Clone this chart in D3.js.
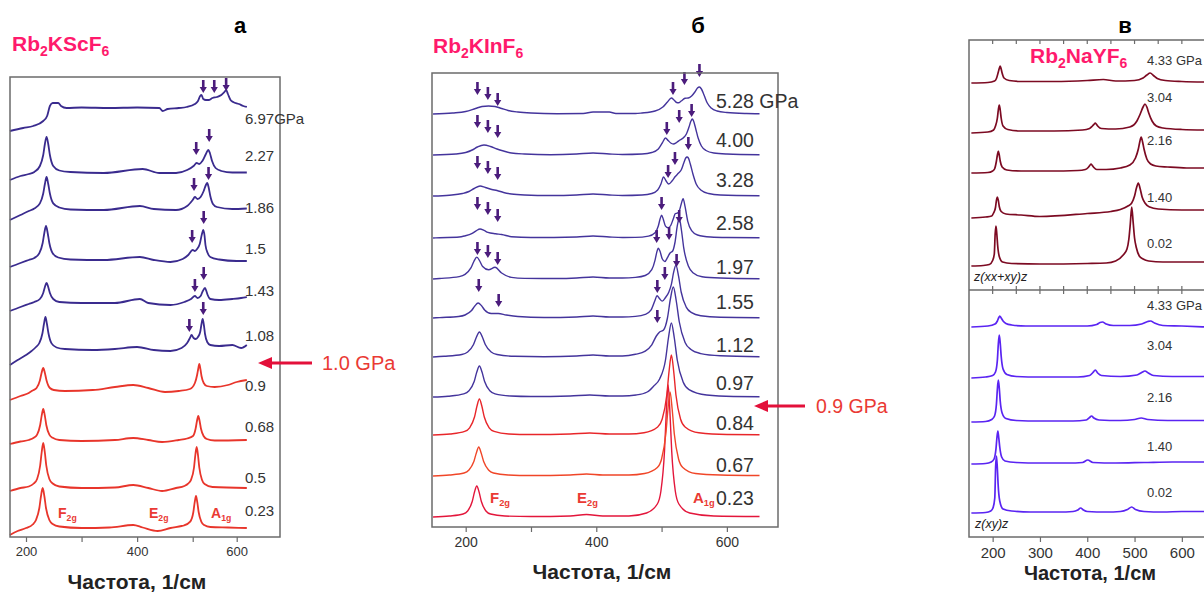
<!DOCTYPE html>
<html><head><meta charset="utf-8">
<script src="https://cdn.jsdelivr.net/npm/d3@7"></script>
<style>body{margin:0;background:#fff}svg{display:block}</style>
</head><body>
<svg id="chart" width="1204" height="592"></svg>
<script>
// ================= DATA =================
// Panel а : Rb2KScF6  (wavenumber 1/cm, intensity a.u. relative to each spectrum's baseline)
const pressuresA = ["0.23","0.5","0.68","0.9","1.08","1.43","1.5","1.86","2.27","6.97GPa"];
const offsetsA = [9,49,96,144,187,234,277,327,364,429];
const spectraA = [
 [[171,-7],[185,-3],[200,0],[212,3.5],[218,8],[224,20],[227,32],[230,40],[233,32],[236,20],[242,8],[248,4],[260,1.5],[300,0],[350,0.5],[393,3],[410,0.5],[437,-3],[460,0],[480,2],[484,2.5],[495.5,6.4],[501.5,16],[504.5,25.6],[507.5,32],[510.5,25.6],[513.5,16],[519.5,6.4],[526,3],[540,1],[580,0.5],[623,0]],
 [[171,-3],[190,0],[205,1.5],[214,4.5],[220,9],[225.5,22.5],[228.3,36],[231,45],[233.8,36],[236.5,22.5],[242,9],[248,4.5],[260,1.5],[300,0],[360,0.5],[393,3],[420,0],[445,-3],[470,0],[485,2],[491,4],[497,8.2],[503,20.5],[506,33],[509,41],[512,33],[515,20.5],[521,8.2],[527,4],[545,1],[623,0]],
 [[171,-3],[190,-0.5],[205,1],[214,3.2],[220,6.4],[225.5,16],[228.3,25.6],[231,32],[233.8,25.6],[236.5,16],[242,6.4],[248,3.2],[260,1],[300,0],[360,1],[393,3],[420,1],[445,-1],[475,1],[490,2.5],[500.7,5],[506.7,12.5],[509.7,20],[512.7,25],[515.7,20],[518.7,12.5],[524.7,5],[532,2],[550,0.5],[623,1]],
 [[171,-7],[190,-3],[205,0],[212,2.5],[219,5],[225,12.5],[228,20],[231,25],[234,20],[237,12.5],[243,5],[250,3],[270,2],[320,3],[360,6],[393,8],[420,5],[450,1],[475,2],[495,4],[505,10],[510,18],[512.5,24],[515,29],[517.5,24],[520,17],[525,10],[532,7],[550,6],[580,8],[600,11],[623,13]],
 [[171,-15],[185,-10],[200,-5],[210,-1],[218,3],[224,7],[229.5,16.5],[232.3,26],[235,33],[237.7,26],[240.5,16.5],[246,6.6],[255,2.5],[270,1],[320,0],[360,1],[400,3],[430,0],[460,-1],[480,2],[490,7],[495,12],[498,15],[502,12],[507,11],[512,13],[517,18],[520,26],[522.7,31],[525.4,25],[528,16],[533,8],[540,5],[560,4],[590,5],[610,2],[623,5]],
 [[171,-8],[190,-4],[205,-1],[215,1],[225,4],[231,10],[234,16],[237,20],[240,16],[243,10],[249,4],[260,1],[300,0],[360,0],[405,4],[420,0],[460,-2],[485,1],[497,4],[505,7],[511,5],[518,7],[523,12],[528,15],[531,12],[534,8],[540,4],[560,3],[590,4],[610,5],[623,6]],
 [[171,-7],[190,-3],[205,0],[215,2],[224,6.8],[230,17],[233,27],[236,34],[239,27],[242,17],[248,6.8],[258,2.5],[280,0.5],[340,0],[405,3],[430,0],[460,-2],[482,1],[492,5],[500,10],[505,9],[510,11],[516,16],[521,26],[524,30],[527,24],[529,15],[534,7],[540,3],[560,0.5],[600,-1],[623,-1]],
 [[171,-10],[190,-5],[205,-1],[215,1.5],[225,6.6],[231,16.5],[234,26],[237,33],[240,26],[243,16.5],[249,6.6],[260,2.5],[280,0.5],[340,0],[405,4],[430,1],[470,0],[490,4],[500,10],[505,13],[511,11],[518,13],[525,19],[530,25],[533,27],[536,23],[540,14],[546,6],[555,3],[590,1],[623,1.5]],
 [[171,-7],[190,-3],[205,-1],[215,1],[225,7],[231,18],[234,29],[237,36],[240,29],[243,18],[249,7],[260,2.5],[280,1],[340,0],[410,4],[440,0],[470,0],[490,3],[502,7],[509,10],[515,9],[522,12],[530,19],[535.5,23],[539,20],[544,12],[552,5],[565,2],[590,0.5],[623,0.5]],
 [[171,-23],[195,-20],[213,-18],[231,-13],[238,-8],[243,2],[248,5],[258,5],[263,2],[273,0],[300,0.5],[350,0],[400,0.5],[440,0],[446,-3],[455,-1],[475,0],[489,1],[505,4],[512,7],[517,12],[520,13],[524,9],[530,8],[536,8],[545,10],[555,11],[565,13],[572,16],[576,18],[580,14],[586,8],[592,6],[605,4],[615,2],[623,1]]
];
const redCountA = 4;
// arrows: [wavenumber, intensity of arrow tip]
const arrowsA = [[524,444],[549,444],[576,446],[508,382],[537.5,395],[503,346],[536,357],[499,294],[525,313],[505,245],[525,257],[494,205],[524,222]];
const ticksA = [200,300,400,500,600];

// Panel б : Rb2KInF6
const pressuresB = ["0.23","0.67","0.84","0.97","1.12","1.55","1.97","2.58","3.28","4.00","5.28 GPa"];
const offsetsB = [10,51,92,130,170,209,248,289,331,372,413];
const spectraB = [
 [[150,0],[175,1],[196,3],[203,6],[210,15.5],[213.5,25],[217,31],[220.5,25],[224,15.5],[231,6],[238,3],[260,1],[300,0.5],[360,1],[385,2.5],[410,1],[450,1],[477,4],[493.5,13],[499,26],[504.5,66],[507.3,106],[510,132],[512.7,106],[515.5,66],[521,26],[526.5,13],[543,4],[580,1],[650,0.5]],
 [[150,0],[175,1],[197.5,3],[205,6],[212.5,14.5],[216.3,23],[220,29],[223.7,23],[227.5,14.5],[235,6],[242.5,3],[265,1],[300,0.5],[360,1],[385,2],[410,1],[450,1],[474,2.5],[493.5,8.5],[500,17],[506.5,42],[509.8,67],[513,84],[516.2,67],[519.5,42],[526,17],[532.5,8.5],[552,2.5],[590,1],[650,0.5]],
 [[150,0],[176,1],[198.5,3.6],[206,7.2],[213.5,18],[217.3,29],[221,36],[224.7,29],[228.5,18],[236,7.2],[243.5,3.6],[266,1],[300,0.5],[360,1],[390,2],[420,1],[450,1],[473,2.2],[494,8],[501,16],[508,40],[511.5,64],[515,80],[518.5,64],[522,40],[529,16],[536,8],[557,2.2],[600,0.5],[650,0.3]],
 [[150,0],[173,0.8],[197,3.1],[205,6.2],[213,15.5],[217,25],[221,31],[225,25],[229,15.5],[237,6.2],[245,3.1],[269,1],[300,0.5],[360,1],[390,2],[420,1],[440,1],[461,2],[478,5],[488,11],[497,18],[506,37],[510.5,59],[515,74],[519.5,59],[524,37],[533,15],[542,7.4],[569,2],[610,0.5],[650,0.3]],
 [[150,0],[167,0.7],[194,2.5],[203,5],[212,12.5],[216.5,20],[221,25],[225.5,20],[230,12.5],[239,5],[248,2.5],[275,0.7],[320,0.3],[370,1],[395,2],[420,1],[440,1],[460,2.7],[475,5.9],[485,12.2],[492,21],[497,25],[503,27],[509,39],[513.5,58],[518,70],[522.5,56],[527,35.5],[536,14.6],[545,7.5],[560,3.4],[590,1.2],[650,0.3]],
 [[150,0],[160,0.4],[189,1.5],[199,3],[209,7.5],[214,12],[219,15],[224,12.5],[229,8],[239,4.5],[250,4.5],[262,3],[280,1.5],[320,0.5],[370,1],[395,2],[420,1],[440,1],[460,1.6],[475,3.6],[484,8.1],[490,17.8],[493,22.3],[497,19.2],[501,16.9],[506,20.5],[511,25.8],[515,33.7],[518.5,45.8],[522,52.7],[526,41.8],[530,26],[538,10.6],[546,5.3],[560,2.2],[590,0.7],[650,0.3]],
 [[150,0],[160,0.5],[190,2.4],[199,4.6],[208,11.1],[212.5,17.5],[217,21.9],[221.5,18],[226,12.5],[235,9.2],[245,11.7],[255,6],[270,1.6],[290,0.6],[340,0.5],[370,1],[395,2],[420,1],[440,1],[460,1.6],[475,3.5],[485,9.3],[490,18.8],[492.5,26.4],[495,30.9],[497.5,27.9],[501,20.2],[505,17.5],[509,21.4],[513,26],[517,28],[520.5,36.5],[524,52.8],[527,60.8],[530.5,48.5],[534,30.8],[541,12.9],[548,6.3],[562,2.3],[590,1],[650,0.3]],
 [[150,0],[160,0.3],[190,1],[198,2],[210,4.6],[216,7.2],[222,9],[228,7.6],[234,5.6],[246,4.2],[255,3.5],[270,1.3],[300,0.5],[370,1],[395,2],[420,1],[440,0.5],[460,0.6],[480,1.9],[490,5.3],[495,12],[497.5,18.5],[500,22.9],[502.5,19],[506,11.9],[510,10.2],[514,12.5],[518,19.3],[521,24.4],[524,24.8],[527,26.8],[530,33.7],[533,39.4],[536,31.3],[540,16.9],[546,7.3],[555,3],[575,1],[600,0.5],[650,0.3]],
 [[150,0],[175,0.8],[195,2.5],[205,4.5],[213,7.5],[222,10],[230,8.5],[240,6.5],[248,5.5],[258,3.5],[270,2],[290,1],[330,0.5],[370,1],[395,2],[420,1],[440,0.5],[470,1],[485,2.5],[494,6],[499,12],[503,19],[507,15],[511,12],[516,15],[521,19.5],[526,23],[530,26],[534,33],[537,38],[539,39],[541,38],[544,32],[548,22],[553,12],[560,6],[572,2.5],[590,1],[650,0.3]],
 [[150,0],[185,1],[200,2.5],[210,5],[218,8],[228,10],[238,8.5],[248,6],[258,4],[270,2],[290,1],[330,0.3],[370,1],[395,2],[420,1],[440,0.5],[470,1],[485,2.5],[495,6],[501,12],[506,17],[510,14.5],[514,12],[518,11],[523,12.5],[528,15],[533,17],[538,21],[542,28],[545,34],[547,36],[549,34],[552,27],[556,17],[561,9],[568,4.5],[580,2],[600,1],[650,0.3]],
 [[150,0],[180,1],[200,2.5],[215,5.5],[225,7.5],[235,8],[245,7.5],[255,5.5],[265,3.5],[280,2],[300,1],[340,0.3],[380,0.5],[395,2],[420,2],[430,0.5],[460,0.5],[470,1],[490,3],[502,7],[509,12],[515,16],[519,14],[523,11.5],[526,11.3],[530,13],[536,15.7],[541,16],[546,18],[551,22],[555,26],[558,27],[561,25],[565,19],[570,11],[576,6],[585,3],[600,1.5],[630,0.5],[650,0.3]]
];
const redColorsB = ["#e3163b","#f04628","#e8262a"];
const arrowsB = [
 [218,432],[234,427],[249,421],[517.5,432],[535,442],[558,450],
 [218,399],[234,394],[249,389],[508,392],[527,404],[546,410],
 [218,358],[234,353],[249,347],[510,349],[520.5,362],[541,377],
 [218,317],[234,312],[249,305],[500,317],[527,304],
 [218,272],[234,269],[249,262],[492.5,284],[511.5,287],
 [220,235],[250.5,220],[493.5,234],[505,247],[523,260],
 [493.5,204]
];
const ticksB = [200,300,400,500,600];

// Panel в : Rb2NaYF6, two polarisations
const pressuresC = ["0.02","1.40","2.16","3.04","4.33 GPa"];
const offsetsCup = [26,76,119,159,208];
const spectraCup = [
 [[155,-2],[180,-1.5],[193,-0.5],[200,3.5],[203.5,10],[205.3,30],[207,38],[208.8,30],[210.5,19],[214,7.6],[221,2],[240,0.5],[300,0],[400,0.5],[440,1],[460,3],[476,9],[484,15],[488,25],[491,40],[494,57],[497,42],[500,26],[504,16],[510,8],[518,5],[530,3],[560,2],[600,2],[650,2]],
 [[155,-4],[185,-3],[198,-2],[202,1],[206,6.5],[208,13.6],[210,17],[212,13.6],[214,7.5],[218,2.5],[228,0],[260,-1],[300,-2.5],[400,0.5],[450,2.5],[470,4.5],[486,8],[494,11],[500,18],[504,26],[508,31],[512,25],[516,17],[522,11],[532,7],[550,5],[600,4],[650,4]],
 [[155,-2],[190,-1.5],[200,0],[204,2],[208,10],[210,16],[212,20],[214,16],[216,10],[220,4],[230,1],[260,0],[320,0],[380,0.5],[396,1.5],[402,3.5],[406,6],[408,7],[410,6],[414,3.5],[420,1.5],[440,1.5],[470,3],[490,6],[502,13],[508,22],[511,29],[514,34],[517,29],[520,22],[526,12],[534,7],[545,5],[570,4],[610,3],[650,3]],
 [[155,-2],[190,-1],[202,1],[206,5],[210,13],[212,21],[214,26],[216,21],[218,13],[222,5],[232,1.5],[260,0],[330,0],[390,1],[405,2.5],[411,5],[415,7],[417,8],[419,7],[423,4.5],[430,2.5],[460,2],[490,4],[505,10],[512,17],[518,24],[522,27],[526,24],[530,18],[537,10],[546,5],[560,3],[600,1.5],[650,1]],
 [[155,-1],[190,-0.5],[204,1],[208,3.5],[212,10],[214,13.5],[216,16],[218,13],[220,9],[224,4],[235,1.5],[260,0.5],[330,0.5],[400,1.5],[434,2.5],[460,1],[500,1.5],[518,4],[526,7],[533,9],[540,6.5],[548,3.5],[565,1.5],[600,0.5],[650,0]]
];
const offsetsCdn = [25,74,116,160,211];
const spectraCdn = [
 [[155,-1],[185,-0.5],[196,1],[201,4.5],[204.5,14],[206.3,45],[208,56],[209.8,45],[211.5,28],[215,11],[222,3],[240,1],[280,0],[340,0],[370,0.5],[380,2],[386,4],[392,2],[400,0.5],[440,0],[470,0.5],[485,2.5],[494,5],[502,2.5],[520,0.5],[560,0],[600,0.5],[650,0.5]],
 [[155,-1],[185,-0.5],[197,1],[203,4],[207,14],[209,25],[211,32],[213,25],[215,16],[219,6],[226,2],[250,0.5],[300,0],[360,0],[390,0.5],[401,3],[412,0.5],[460,0],[520,0.5],[580,1],[650,1]],
 [[155,-1],[185,-0.5],[198,1.5],[204,5],[208,17],[210,32],[212,41],[214,33],[216,20],[220,8],[228,2.5],[250,0.5],[300,0],[370,0],[398,1],[405,3.5],[409,5],[414,3],[425,1],[470,0.5],[500,1.5],[514,3],[528,1.5],[570,0.5],[650,0.5]],
 [[155,-1],[185,0],[200,1.5],[206,5],[210,17],[212,33],[214,42],[216,34],[218,21],[222,8],[230,2.5],[250,0.5],[300,0],[380,0],[405,1.5],[412,4.5],[417,7],[422,4],[430,1.5],[470,0.5],[505,2],[515,4.5],[522,6],[529,4],[540,1.5],[580,0.5],[650,0.5]],
 [[155,-1],[190,0],[205,2],[210,5],[213,8.5],[215,10],[218,8],[222,5],[228,2.5],[240,1],[270,0],[330,0],[400,0],[420,1.5],[427,3.5],[432,4],[440,2],[455,0.5],[490,0.5],[515,2],[528,4.5],[534,5],[542,3],[560,0.5],[600,0],[650,-1]]
];
const ticksC = [200,300,400,500,600];
const minorTicksC = [200,250,300,350,400,450,500,550,600];

// ================= DRAWING =================
const svg = d3.select("#chart");
const FONT = "'Liberation Sans', Arial, Helvetica, sans-serif";
const TXT = "#333";
const BOXC = "#6b6b6b";
const PINK = "#ff1a6c";
const REDTXT = "#ea3a34";
const ARROWC = "#4b1c7c";

function lineGen(x, y, off){
  return d3.line().x(d => x(d[0])).y(d => y(d[1] + off)).curve(d3.curveMonotoneX);
}
function downArrow(g, x, y, color){
  const p = d3.path();
  p.moveTo(x - 1.3, y - 13); p.lineTo(x + 1.3, y - 13); p.lineTo(x + 1.3, y - 6);
  p.lineTo(x + 3.6, y - 6); p.lineTo(x, y); p.lineTo(x - 3.6, y - 6); p.lineTo(x - 1.3, y - 6); p.closePath();
  g.append("path").attr("d", p.toString()).attr("fill", color);
}
function compound(g, x, y, parts){
  const t = g.append("text").attr("x", x).attr("y", y).attr("font-family", FONT)
    .attr("font-weight", "bold").attr("font-size", 21).attr("fill", PINK);
  parts.forEach(([s, sub]) => {
    t.append("tspan").text(s).attr("font-size", sub ? 14 : 21).attr("dy", sub ? 5 : (t.node().childNodes.length ? -5 : 0));
  });
}
function modeLabel(g, x, y, main, sub, size){
  const t = g.append("text").attr("x", x).attr("y", y).attr("font-family", FONT)
    .attr("font-weight", "bold").attr("font-size", size).attr("fill", REDTXT);
  t.append("tspan").text(main);
  t.append("tspan").text(sub).attr("font-size", size * 0.62).attr("dy", 3);
}
function redArrow(g, x1, x2, y){
  g.append("line").attr("x1", x2).attr("x2", x1 + 10).attr("y1", y).attr("y2", y)
    .attr("stroke", "#e3103a").attr("stroke-width", 3);
  g.append("path").attr("d", `M${x1},${y} L${x1 + 14},${y - 6} L${x1 + 14},${y + 6} Z`).attr("fill", "#e3103a");
}
function bottomAxis(g, x, y0, ticks, labelEvery, fontSize, tickLen){
  const ax = d3.axisBottom(x).tickValues(ticks).tickSize(tickLen).tickPadding(5)
    .tickFormat(d => (labelEvery(d) ? d : ""));
  const a = g.append("g").attr("transform", `translate(0,${y0})`).call(ax);
  a.select(".domain").remove();
  a.selectAll("line").attr("stroke", BOXC).attr("stroke-width", 1.2);
  a.selectAll("text").attr("font-family", FONT).attr("font-size", fontSize).attr("fill", TXT);
  return a;
}
function axisTitle(g, cx, y, size){
  g.append("text").attr("x", cx).attr("y", y).attr("text-anchor", "middle").attr("font-family", FONT)
    .attr("font-weight", "bold").attr("font-size", size).attr("fill", "#222").text("Частота, 1/см");
}
function panelLetter(g, cx, y, s){
  g.append("text").attr("x", cx).attr("y", y).attr("text-anchor", "middle").attr("font-family", FONT)
    .attr("font-weight", "bold").attr("font-size", 22).attr("fill", "#000").text(s);
}

// ---------- Panel а ----------
{
  const g = svg.append("g");
  const L = 10, R = 280, T = 77, B = 537;
  const x = d3.scaleLinear().domain([200, 500, 600]).range([26, 192.7, 236.7]);
  const y = d3.scaleLinear().domain([0, 460]).range([B, T]);
  spectraA.forEach((s, i) => {
    g.append("path").attr("d", lineGen(x, y, offsetsA[i])(s)).attr("fill", "none")
      .attr("stroke", i < redCountA ? "#e8352b" : "#3a2b8e").attr("stroke-width", 1.8).attr("stroke-linejoin", "round");
  });
  arrowsA.forEach(a => downArrow(g, x(a[0]), y(a[1]), ARROWC));
  g.append("rect").attr("x", L).attr("y", T).attr("width", R - L).attr("height", B - T)
    .attr("fill", "none").attr("stroke", BOXC).attr("stroke-width", 1.5);
  bottomAxis(g, x, B, ticksA, d => d % 200 === 0, 13, 5);
  const dyA = [-18, -11, -15, -8, -15, -13, -12, -3, -18, 10];
  pressuresA.forEach((p, i) => {
    g.append("text").attr("x", 245).attr("y", y(offsetsA[i]) + dyA[i]).attr("dominant-baseline", "central")
      .attr("font-family", FONT).attr("font-size", 15).attr("fill", TXT).text(p);
  });
  modeLabel(g, 58, 518, "F", "2g", 14);
  modeLabel(g, 149, 518, "E", "2g", 14);
  modeLabel(g, 211, 518, "A", "1g", 14);
  axisTitle(g, 137, 589, 21);
  panelLetter(g, 240, 33, "а");
  compound(g, 12, 56, [["Rb",0],["2",1],["KScF",0],["6",1]]);
  redArrow(g, 258, 312, 363);
  g.append("text").attr("x", 322).attr("y", 363).attr("dominant-baseline", "central").attr("font-family", FONT)
    .attr("font-size", 20).attr("fill", REDTXT).text("1.0 GPa");
}

// ---------- Panel б ----------
{
  const g = svg.append("g");
  const L = 432, R = 778, T = 73, B = 527;
  const x = d3.scaleLinear().domain([148.4, 678.3]).range([L, R]);
  const y = d3.scaleLinear().domain([0, 454]).range([B, T]);
  spectraB.forEach((s, i) => {
    g.append("path").attr("d", lineGen(x, y, offsetsB[i])(s)).attr("fill", "none")
      .attr("stroke", i < redColorsB.length ? redColorsB[i] : "#44349c").attr("stroke-width", 1.4).attr("stroke-linejoin", "round");
  });
  arrowsB.forEach(a => downArrow(g, x(a[0]), y(a[1]), ARROWC));
  g.append("rect").attr("x", L).attr("y", T).attr("width", R - L).attr("height", B - T)
    .attr("fill", "none").attr("stroke", BOXC).attr("stroke-width", 1.5);
  bottomAxis(g, x, B, ticksB, d => d % 200 === 0, 14, 5);
  const dyB = [-19, -11, -12, -14, -12, -16, -12, -15, -16, -15, -13];
  pressuresB.forEach((p, i) => {
    g.append("text").attr("x", 716).attr("y", y(offsetsB[i]) + dyB[i]).attr("dominant-baseline", "central")
      .attr("font-family", FONT).attr("font-size", 19.5).attr("fill", TXT).text(p);
  });
  modeLabel(g, 490, 503, "F", "2g", 15);
  modeLabel(g, 577, 503, "E", "2g", 15);
  modeLabel(g, 693, 503, "A", "1g", 15);
  axisTitle(g, 602, 579, 21);
  panelLetter(g, 698, 33, "б");
  compound(g, 433, 58, [["Rb",0],["2",1],["KInF",0],["6",1]]);
  redArrow(g, 754, 805, 406);
  g.append("text").attr("x", 816).attr("y", 406).attr("dominant-baseline", "central").attr("font-family", FONT)
    .attr("font-size", 19.5).attr("fill", REDTXT).text("0.9 GPa");
}

// ---------- Panel в ----------
{
  const g = svg.append("g");
  const L = 969, R = 1214, T = 40, M = 290, B = 537;
  const x = d3.scaleLinear().domain([150, 650]).range([969, 1205.5]);
  const yUp = d3.scaleLinear().domain([0, 250]).range([M, T]);
  const yDn = d3.scaleLinear().domain([0, 247]).range([B, M]);
  spectraCup.forEach((s, i) => {
    g.append("path").attr("d", lineGen(x, yUp, offsetsCup[i])(s)).attr("fill", "none")
      .attr("stroke", "#7c0a22").attr("stroke-width", 1.7).attr("stroke-linejoin", "round");
  });
  spectraCdn.forEach((s, i) => {
    g.append("path").attr("d", lineGen(x, yDn, offsetsCdn[i])(s)).attr("fill", "none")
      .attr("stroke", "#5a24f2").attr("stroke-width", 1.7).attr("stroke-linejoin", "round");
  });
  g.append("rect").attr("x", L).attr("y", T).attr("width", R - L).attr("height", B - T)
    .attr("fill", "none").attr("stroke", BOXC).attr("stroke-width", 1.5);
  g.append("line").attr("x1", L).attr("x2", R).attr("y1", M).attr("y2", M).attr("stroke", BOXC).attr("stroke-width", 1.5);
  const tickG = g.append("g");
  minorTicksC.forEach(v => {
    tickG.append("line").attr("x1", x(v)).attr("x2", x(v)).attr("y1", T).attr("y2", T + 4).attr("stroke", BOXC).attr("stroke-width", 1.2);
    tickG.append("line").attr("x1", x(v)).attr("x2", x(v)).attr("y1", M - 4).attr("y2", M + 4).attr("stroke", BOXC).attr("stroke-width", 1.2);
  });
  bottomAxis(g, x, B, ticksC, () => true, 15, 5);
  const dyCup = [-21, -17, -31, -34, -22];
  const dyCdn = [-20, -17, -24, -32, -21];
  pressuresC.forEach((p, i) => {
    g.append("text").attr("x", 1147).attr("y", yUp(offsetsCup[i]) + dyCup[i]).attr("dominant-baseline", "central")
      .attr("font-family", FONT).attr("font-size", 13).attr("fill", TXT).text(p);
    g.append("text").attr("x", 1147).attr("y", yDn(offsetsCdn[i]) + dyCdn[i]).attr("dominant-baseline", "central")
      .attr("font-family", FONT).attr("font-size", 13).attr("fill", TXT).text(p);
  });
  g.append("text").attr("x", 974).attr("y", 281).attr("font-family", FONT).attr("font-style", "italic")
    .attr("font-size", 12.5).attr("fill", "#222").text("z(xx+xy)z");
  g.append("text").attr("x", 975).attr("y", 528).attr("font-family", FONT).attr("font-style", "italic")
    .attr("font-size", 12.5).attr("fill", "#222").text("z(xy)z");
  axisTitle(g, 1090, 580, 20);
  panelLetter(g, 1125, 33, "в");
  compound(g, 1030, 68, [["Rb",0],["2",1],["NaYF",0],["6",1]]);
}
</script>
</body></html>
